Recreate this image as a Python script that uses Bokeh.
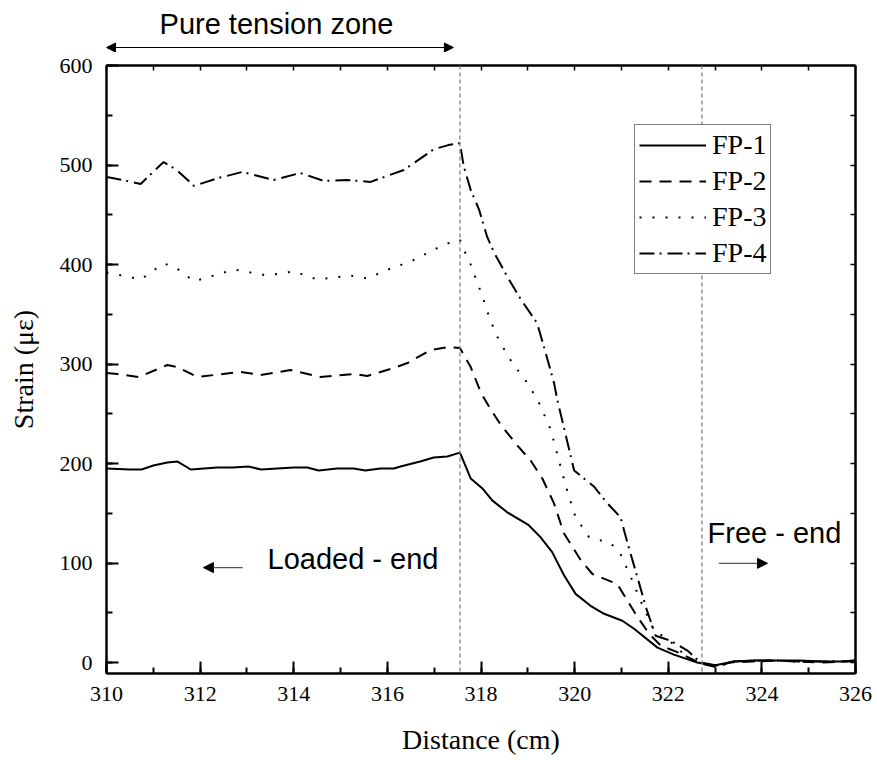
from bokeh.plotting import figure
from bokeh.layouts import column
from bokeh.models import (Range1d, LinearAxis, Span, Label, Arrow, NormalHead,
                          Legend, LegendItem, SingleIntervalTicker, CustomJSTickFormatter)
from bokeh.embed import file_html
from bokeh.resources import INLINE

# ---- data ----
x1 = [310.0, 310.5, 310.75, 311.0, 311.3, 311.52, 311.8, 312.37, 312.7, 313.03, 313.3, 313.65,
      314.0, 314.29, 314.53, 314.93, 315.28, 315.53, 315.85, 316.14, 316.28, 316.7, 316.99,
      317.28, 317.55, 317.78, 318.03, 318.24, 318.56, 319.02, 319.27, 319.52, 319.77, 320.02,
      320.34, 320.63, 321.02, 321.27, 321.77, 322.12, 322.62, 322.98, 323.4, 323.8, 324.3,
      324.8, 325.3, 325.7, 326.0]
y1 = [195, 194, 194, 198, 201, 202, 194, 196, 196, 197, 194, 195, 196, 196, 193, 195, 195, 193,
      195, 195, 197, 202, 206, 207, 211, 185, 175, 163, 151, 138, 126, 111, 88, 69, 57, 49, 42,
      34, 15, 8, 0, -3, 1, 2, 2, 2, 1, 1, 2]

x2 = [310.0, 310.23, 310.69, 311.3, 311.51, 311.94, 312.86, 313.29, 313.93, 314.57, 315.28,
      315.57, 316.14, 316.43, 316.92, 317.3, 317.55, 317.78, 318.0, 318.2, 318.42, 318.78,
      319.06, 319.31, 319.56, 319.77, 320.13, 320.38, 320.91, 321.13, 321.34, 321.59, 321.84,
      322.27, 322.69, 323.05, 323.3, 323.8, 324.3, 324.8, 325.3, 325.7, 326.0]
y2 = [291, 290, 287, 299, 297, 287, 292, 289, 294, 287, 290, 288, 296, 301, 314, 317, 316, 297,
      271, 255, 239, 218, 203, 185, 160, 130, 103, 89, 79, 62, 46, 29, 17, 9, -1, -5, 0, 1, 2,
      1, 0, 1, 1]

x3 = [310.0, 310.12, 310.73, 311.22, 311.45, 311.87, 312.72, 313.43, 314.0, 314.5, 315.21,
      315.57, 316.07, 316.5, 317.21, 317.55, 317.63, 317.74, 317.85, 318.03, 318.2, 318.38,
      318.67, 318.99, 319.22, 319.49, 319.7, 319.84, 320.02, 320.31, 320.77, 320.98, 321.2,
      321.41, 321.7, 321.98, 322.41, 322.76, 323.05, 323.4, 323.8, 324.3, 324.8, 325.3,
      325.7, 326.0]
y3 = [392, 391, 385, 401, 398, 383, 395, 389, 393, 385, 389, 386, 396, 403, 420, 425, 415, 405,
      391, 368, 344, 324, 301, 281, 263, 234, 197, 173, 146, 126, 120, 109, 86, 62, 32, 24, 5,
      -1, -3, 1, 2, 2, 1, 1, 1, 2]

x4 = [310.0, 310.12, 310.73, 311.22, 311.5, 311.87, 312.4, 312.9, 313.57, 314.14, 314.64,
      315.14, 315.64, 316.35, 317.0, 317.3, 317.55, 317.63, 317.78, 317.96, 318.13, 318.28,
      318.56, 318.85, 319.2, 319.34, 319.56, 319.63, 319.99, 320.41, 320.7, 320.98, 321.13,
      321.34, 321.52, 321.73, 322.05, 322.41, 322.69, 323.05, 323.4, 323.8, 324.3, 324.8,
      325.3, 325.7, 326.0]
y4 = [488, 487, 481, 503, 495, 479, 487, 493, 485, 492, 484, 485, 483, 495, 516, 520, 522, 499,
      475, 455, 428, 412, 388, 365, 341, 318, 281, 264, 193, 177, 160, 146, 120, 86, 56, 27,
      22, 12, 0, -3, 1, 2, 2, 1, 1, 1, 2]

series_names = ["FP-1", "FP-2", "FP-3", "FP-4"]
series_dash = ["solid", "12 8", "2 11", "15 5 2 6"]
ref_lines = [317.55, 322.72]

SERIF = "Liberation Serif"
SANS = "Liberation Sans"
W = 876
LEFT = 106
RIGHT = 21
HEAD_H = 52

xr = Range1d(310, 326)

# ---- header strip (annotation above the frame) ----
head = figure(width=W, height=HEAD_H, output_backend="svg", toolbar_location=None,
              x_range=xr, y_range=Range1d(0, HEAD_H),
              min_border_left=LEFT, min_border_right=RIGHT, min_border_top=0, min_border_bottom=0,
              x_axis_location=None, y_axis_location=None)
head.outline_line_color = None
head.grid.visible = False
head.add_layout(Label(x=313.63, y=HEAD_H - 23.3, text="Pure tension zone", text_align="center",
                      text_baseline="middle", text_font=SANS, text_font_size="29px",
                      text_color="black"))
head.add_layout(Arrow(x_start=310.0, y_start=HEAD_H - 47, x_end=317.41, y_end=HEAD_H - 47,
                      line_color="black", line_width=1.2,
                      start=NormalHead(size=9, fill_color="black", line_color="black"),
                      end=NormalHead(size=9, fill_color="black", line_color="black")))

# ---- main plot ----
p = figure(width=W, height=706, output_backend="svg", toolbar_location=None,
           x_range=xr, y_range=Range1d(-11, 600),
           min_border_left=LEFT, min_border_right=RIGHT, min_border_top=13, min_border_bottom=85,
           x_axis_label="Distance (cm)", y_axis_label="Strain (\u03bc\u03b5)")
p.outline_line_color = None
p.grid.visible = False

p.xaxis.ticker = SingleIntervalTicker(interval=2, num_minor_ticks=2)
p.yaxis.ticker = SingleIntervalTicker(interval=100, num_minor_ticks=2)

for ax in (p.xaxis[0], p.yaxis[0]):
    ax.axis_line_width = 2.5
    ax.axis_line_color = "black"
    ax.major_tick_in = 12
    ax.major_tick_out = 0
    ax.minor_tick_in = 6
    ax.minor_tick_out = 0
    ax.major_tick_line_width = 2
    ax.minor_tick_line_width = 2
    ax.major_label_text_font = SERIF
    ax.major_label_text_font_size = "22px"
    ax.major_label_text_color = "black"
    ax.axis_label_text_font = SERIF
    ax.axis_label_text_font_size = "28px"
    ax.axis_label_text_font_style = "normal"
    ax.axis_label_text_color = "black"
p.xaxis.major_label_standoff = 13
p.xaxis.axis_label_standoff = 20
p.yaxis.major_label_standoff = 14
p.yaxis.axis_label_standoff = 18

blank = CustomJSTickFormatter(code="return ''")
top = LinearAxis(ticker=SingleIntervalTicker(interval=1, num_minor_ticks=2), formatter=blank)
right = LinearAxis(ticker=SingleIntervalTicker(interval=50, num_minor_ticks=1), formatter=blank)
for ax in (top, right):
    ax.axis_line_width = 2.5
    ax.axis_line_color = "black"
    ax.major_tick_in = 5
    ax.major_tick_out = 0
    ax.minor_tick_in = 0
    ax.minor_tick_out = 0
    ax.major_tick_line_width = 1.5
    ax.major_label_text_font_size = "1px"
    ax.major_label_standoff = 0
p.add_layout(top, "above")
p.add_layout(right, "right")

for xv in ref_lines:
    p.add_layout(Span(location=xv, dimension="height", line_color="#808080",
                      line_dash="4 3", line_width=1.3))

xs = [x1, x2, x3, x4]
ys = [y1, y2, y3, y4]
items = []
for name, xd, yd, dash in zip(series_names, xs, ys, series_dash):
    r = p.line(xd, yd, line_color="black", line_width=2, line_dash=dash)
    items.append(LegendItem(label=name, renderers=[r]))

legend = Legend(items=items, location=(528, 399), margin=0, padding=4, spacing=4,
                label_height=30, glyph_height=30, glyph_width=67, label_standoff=6,
                label_text_font=SERIF, label_text_font_size="28px", label_text_color="black",
                border_line_color="black", border_line_width=1.3,
                background_fill_alpha=1.0)
p.add_layout(legend)

p.add_layout(Label(x=313.44, y=103.9, text="Loaded - end", text_align="left",
                   text_baseline="middle", text_font=SANS, text_font_size="29px",
                   text_color="black"))
p.add_layout(Arrow(x_start=312.91, y_start=95.4, x_end=312.07, y_end=95.4,
                   line_color="#555555", line_width=1.2,
                   end=NormalHead(size=10, fill_color="black", line_color="black")))

p.add_layout(Label(x=322.84, y=129.9, text="Free - end", text_align="left",
                   text_baseline="middle", text_font=SANS, text_font_size="29px",
                   text_color="black"))
p.add_layout(Arrow(x_start=323.08, y_start=99.7, x_end=324.12, y_end=99.7,
                   line_color="#555555", line_width=1.2,
                   end=NormalHead(size=10, fill_color="black", line_color="black")))

layout = column(head, p, spacing=0)
open("out.html", "w").write(file_html(layout, INLINE))
